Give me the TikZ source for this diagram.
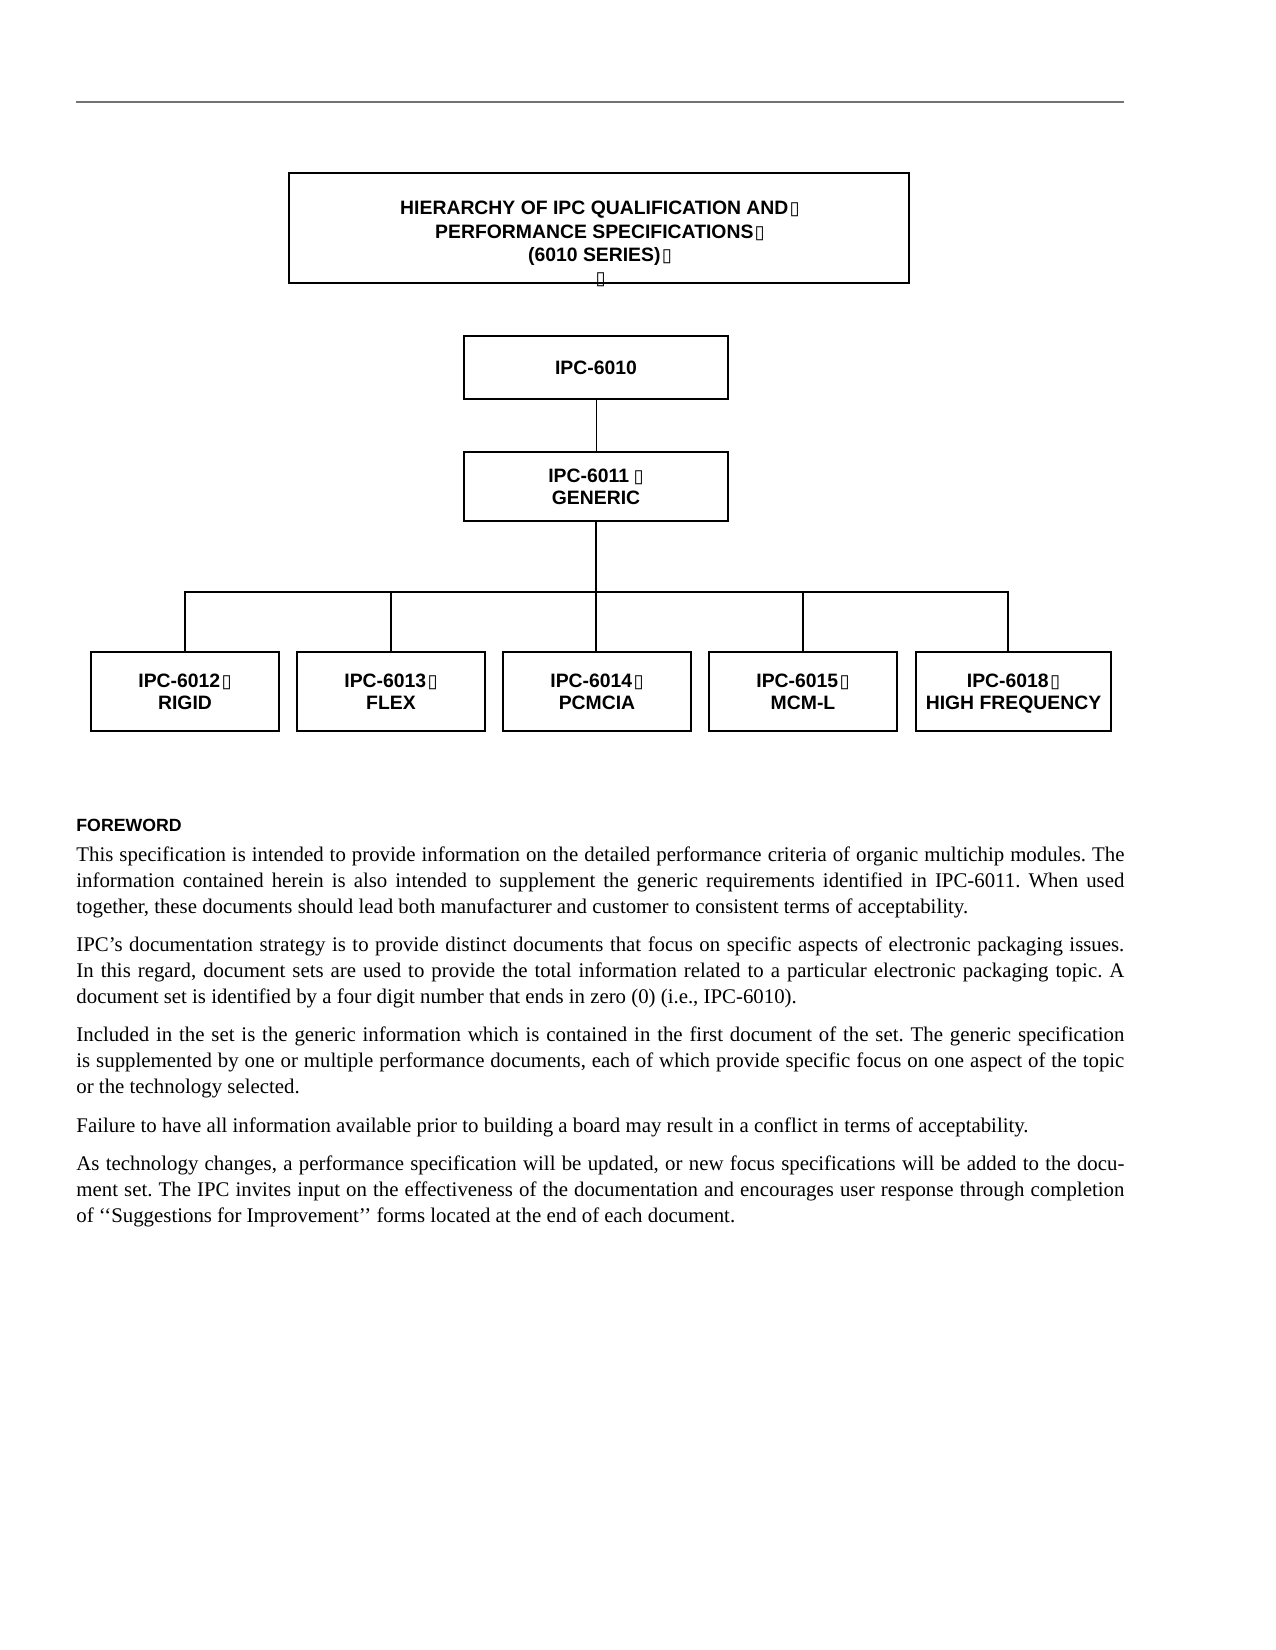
\documentclass[tikz,border=0pt]{standalone}
\usepackage{fontspec}
\setmainfont{Liberation Serif}
\newfontfamily\headfont{Liberation Sans}
\newfontfamily\glyphfont{DejaVu Sans}
\usetikzlibrary{positioning}
\newcommand{\nochar}{{\kern0.6pt\glyphfont\mdseries\fontsize{8.8}{8.8}\selectfont ▯}}

\begin{document}
\begin{tikzpicture}[x=0.48pt,y=-0.48pt,
    spec/.style={draw,line width=0.8pt,rectangle,align=center,inner sep=0pt,
      font=\headfont\bfseries\fontsize{9.3}{10.7}\selectfont},
    sub/.style={spec,minimum width=90.2pt,minimum height=37.9pt}]
    \useasboundingbox (0,0) rectangle (1275,1650);
    \draw[line width=0.7pt,black!55] (76,102) -- (1124,102);

    \node[spec,minimum width=297.6pt,minimum height=52.8pt] (title) at (599,228) {};
    \node[align=center,inner sep=0pt,font=\headfont\bfseries\fontsize{9.3}{11.1}\selectfont] (titletext) at (600,244)
        {HIERARCHY OF IPC QUALIFICATION AND\nochar\\PERFORMANCE SPECIFICATIONS\nochar\\(6010 SERIES)\nochar\\\nochar} ;
    \node[spec,minimum width=126.7pt,minimum height=30.2pt] (ipc6010) at (596,367.5) {IPC-6010} ;
    \node[spec,minimum width=126.7pt,minimum height=33.1pt] (ipc6011) at (596,486.5) {IPC-6011\,\nochar\\GENERIC} ;
    \node[sub] (ipc6012) at (185,691.5) {IPC-6012\nochar\\RIGID} ;
    \node[sub] (ipc6013) at (391,691.5) {IPC-6013\nochar\\FLEX} ;
    \node[sub] (ipc6014) at (597,691.5) {IPC-6014\nochar\\PCMCIA} ;
    \node[sub] (ipc6015) at (803,691.5) {IPC-6015\nochar\\MCM-L} ;
    \node[sub,minimum width=93.6pt] (ipc6018) at (1013.5,691.5) {IPC-6018\nochar\\HIGH FRE\smash{Q}UENCY} ;
    \coordinate (bus) at (596,592) ;

    \path[-] (ipc6010) edge (ipc6011) ;
    \draw[line width=0.7pt] (ipc6011.south) -- (bus) -- (bus |- ipc6014.north) ;
    \foreach \n in {ipc6012,ipc6013,ipc6015}
        \draw[line width=0.7pt] (bus) -| (\n.north) ;
    \draw[line width=0.7pt] (bus) -| ([xshift=-2.6pt]ipc6018.north) ;

    \node[anchor=base west,inner sep=0pt,font=\headfont\bfseries\fontsize{8.5}{10}\selectfont] (forewordhead) at (76,831.5) {FOREWORD} ;
    \node[anchor=north west,inner sep=0pt,text width=503pt,align=justify,font=\fontsize{10}{12.36}\selectfont] (foreword) at (76,846.5)
        {\frenchspacing\setlength{\parskip}{6.2pt}\setlength{\parindent}{0pt}%
        This specification is intended to provide information on the detailed performance criteria of organic multichip modules. The\linebreak
        information contained herein is also intended to supplement the generic requirements identified in IPC-6011. When used\linebreak
        together, these documents should lead both manufacturer and customer to consistent terms of acceptability.\par
        IPC’s documentation strategy is to provide distinct documents that focus on specific aspects of electronic packaging issues.\linebreak
        In this regard, document sets are used to provide the total information related to a particular electronic packaging topic. A\linebreak
        document set is identified by a four digit number that ends in zero (0) (i.e., IPC-6010).\par
        Included in the set is the generic information which is contained in the first document of the set. The generic specification\linebreak
        is supplemented by one or multiple performance documents, each of which provide specific focus on one aspect of the topic\linebreak
        or the technology selected.\par
        Failure to have all information available prior to building a board may result in a conflict in terms of acceptability.\par
        As technology changes, a performance specification will be updated, or new focus specifications will be added to the docu-\linebreak
        ment set. The IPC invites input on the effectiveness of the documentation and encourages user response through completion\linebreak
        of ‘‘Suggestions for Improvement’’ forms located at the end of each document.} ;
\end{tikzpicture}
\end{document}
